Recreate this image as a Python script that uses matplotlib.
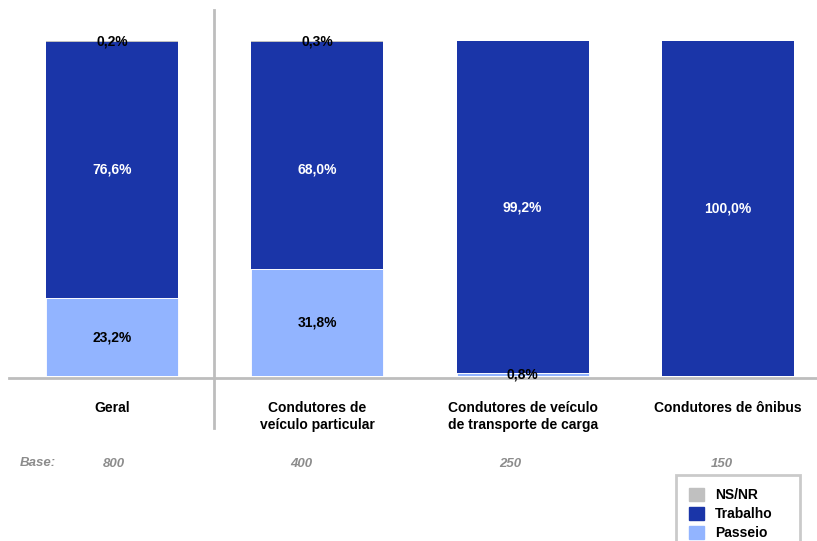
import matplotlib
matplotlib.use("Agg")
import matplotlib.pyplot as plt
import matplotlib.patches as mpatches
import numpy as np

plt.rcParams['font.family'] = ['Liberation Sans', 'DejaVu Sans']

categorias = ["Geral", "Condutores de\nveículo particular",
              "Condutores de veículo\nde transporte de carga", "Condutores de ônibus"]
passeio = [23.2, 31.8, 0.8, 0.0]
trabalho = [76.6, 68.0, 99.2, 100.0]
nsnr = [0.2, 0.3, 0.0, 0.0]
bases = ["800", "400", "250", "150"]

cor_nsnr = "#C0C0C0"
cor_trabalho = "#1A35A8"
cor_passeio = "#92B4FF"

fig = plt.figure(figsize=(8.17, 5.41), dpi=100)
ax = fig.add_axes([9 / 817, 1 - 376 / 541, 808 / 817, 335 / 541])

x = np.arange(len(categorias))
larg = 0.643

ax.bar(x, passeio, larg, color=cor_passeio, edgecolor="white", linewidth=0.6)
ax.bar(x, trabalho, larg, bottom=passeio, color=cor_trabalho, edgecolor="none")
base_ns = np.array(passeio) + np.array(trabalho)
ax.bar(x, nsnr, larg, bottom=base_ns, color=cor_nsnr, edgecolor="none")

def fmt(v):
    return "{:.1f}%".format(v).replace(".", ",")

# posição vertical dos rótulos de "Trabalho" (o da 2a barra fica alinhado com o da 1a)
y_trab = [p + t / 2 for p, t in zip(passeio, trabalho)]
y_trab[1] = y_trab[0]

for i in range(len(x)):
    if passeio[i] > 0:
        ax.text(x[i], passeio[i] / 2, fmt(passeio[i]), ha="center", va="center",
                fontsize=10, fontweight="bold", color="black")
    ax.text(x[i], y_trab[i], fmt(trabalho[i]), ha="center",
            va="center", fontsize=10, fontweight="bold", color="white")
    if nsnr[i] > 0:
        ax.text(x[i], base_ns[i] + nsnr[i] / 2, fmt(nsnr[i]), ha="center",
                va="center", fontsize=10, fontweight="bold", color="black")

ax.set_xlim((9 - 112) / 205.33, (817 - 112) / 205.33)
ax.set_ylim(0, 100)
ax.axis("off")

# linha de base e separador do total
ax.plot([ax.get_xlim()[0], ax.get_xlim()[1]], [-0.6, -0.6], color="#BDBDBD",
        lw=2, clip_on=False, zorder=0)
ax.plot([0.497, 0.497], [109.3, -15.5], color="#BDBDBD", lw=2, clip_on=False, zorder=0)

for i, cat in enumerate(categorias):
    ax.text(x[i], -7.4, cat, ha="center", va="top", fontsize=10,
            fontweight="bold", color="black", linespacing=1.25)

base_x = [0.01, 0.92, 1.94, 2.97]
ax.text(-0.448, -26.0, "Base:", ha="left", va="center", fontsize=9.5,
        fontstyle="italic", fontweight="bold", color="#8C8C8C")
for bx, b in zip(base_x, bases):
    ax.text(bx, -26.3, b, ha="center", va="center", fontsize=9.5,
            fontstyle="italic", fontweight="bold", color="#8C8C8C")

handles = [mpatches.Patch(color=cor_nsnr, label="NS/NR"),
           mpatches.Patch(color=cor_trabalho, label="Trabalho"),
           mpatches.Patch(color=cor_passeio, label="Passeio")]
leg = fig.legend(handles=handles, loc="upper left",
                 bbox_to_anchor=(676 / 817, 1 - 475 / 541, 124 / 817, 0.0),
                 mode="expand", borderaxespad=0,
                 frameon=True, fancybox=False, fontsize=10,
                 handlelength=1.1, handleheight=1.1, handletextpad=0.8,
                 labelspacing=0.35, borderpad=0.9)
leg.get_frame().set_edgecolor("#BDBDBD")
leg.get_frame().set_linewidth(2)
for t in leg.get_texts():
    t.set_fontweight("bold")

fig.savefig("out.png", dpi=100)
